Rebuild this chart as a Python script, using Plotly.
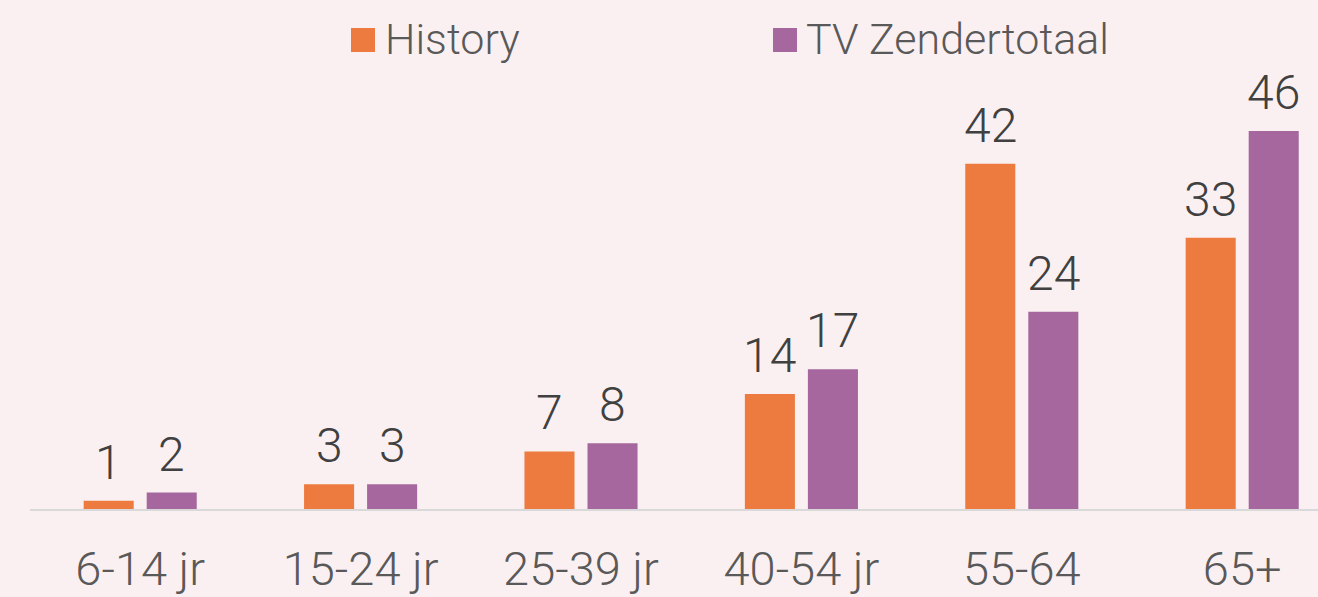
import plotly.graph_objects as go

categories = ["6-14 jr", "15-24 jr", "25-39 jr", "40-54 jr", "55-64", "65+"]
history = [1, 3, 7, 14, 42, 33]
tv_total = [2, 3, 8, 17, 24, 46]
series_names = ["History", "TV Zendertotaal"]
colors = ["#ED7A3E", "#A5679D"]

W, H = 1318, 597
ML, MR, MT, MB = 30, 0, 80, 88
plot_w = W - ML - MR
plot_h = H - MT - MB
cat_px = 220.4
x_range = [-0.5, -0.5 + plot_w / cat_px]
y_range = [0, 52.2]

FONT = "Roboto"
bargap = 0.428
bargroupgap = 0.206
slot = (1 - bargap) / 2

fig = go.Figure()
for name, vals, col in zip(series_names, [history, tv_total], colors):
    fig.add_trace(go.Bar(
        x=categories, y=vals, name=name, marker=dict(color=col, line=dict(width=0)),
        showlegend=False, hoverinfo="skip",
    ))

# data labels
for i, vals in enumerate([history, tv_total]):
    shift = (i - 0.5) * slot * cat_px
    for c, v in zip(categories, vals):
        fig.add_annotation(
            x=c, y=v, xref="x", yref="y", text=str(v), showarrow=False,
            xanchor="center", yanchor="bottom", xshift=shift, yshift=8,
            font=dict(family=FONT, size=48, color="#404040", weight=300),
        )

# legend (manual)
def px_to_paper_x(px):
    return (px - ML) / plot_w

def px_to_paper_y(py):
    return (H - MB - py) / plot_h

legend_items = [(351, 387), (773, 808)]
for (sq_x, tx), name, col in zip(legend_items, series_names, colors):
    fig.add_shape(type="rect", xref="paper", yref="paper",
                  x0=px_to_paper_x(sq_x), x1=px_to_paper_x(sq_x + 24),
                  y0=px_to_paper_y(52), y1=px_to_paper_y(28),
                  fillcolor=col, line=dict(width=0))
    fig.add_annotation(x=px_to_paper_x(tx - 4), y=px_to_paper_y(39), xref="paper", yref="paper",
                       text=name, showarrow=False, xanchor="left", yanchor="middle",
                       font=dict(family=FONT, size=43, color="#595959", weight=300))

fig.update_layout(
    width=W, height=H,
    margin=dict(l=ML, r=MR, t=MT, b=MB, pad=0),
    paper_bgcolor="#FBF0F1", plot_bgcolor="#FBF0F1",
    barmode="group", bargap=bargap, bargroupgap=bargroupgap,
    showlegend=False,
    xaxis=dict(range=x_range, showgrid=False, zeroline=False, showline=True,
               linecolor="#D9D9D9", linewidth=2, ticks="", ticklabelstandoff=18,
               tickfont=dict(family=FONT, size=47, color="#595959", weight=300)),
    yaxis=dict(range=y_range, showgrid=False, zeroline=False, showline=False,
               showticklabels=False, ticks=""),
)

fig.write_html(
    "out.html",
    config={"displayModeBar": False},
    post_script="document.body.style.margin='0px';document.body.style.overflow='hidden';"
                "document.body.style.background='#FBF0F1';",
)
